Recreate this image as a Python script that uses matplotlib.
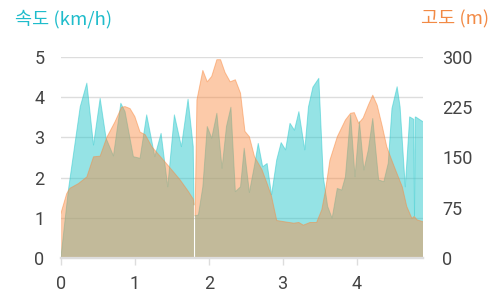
import matplotlib
matplotlib.use("Agg")
import matplotlib.pyplot as plt
import numpy as np

# distance (km) vs speed (km/h); NaN splits the two recorded segments
speed_x = [0, 0.10, 0.26, 0.35, 0.44, 0.53, 0.61, 0.71, 0.81, 0.867, 0.98, 1.07,
           1.16, 1.27, 1.355, 1.445, 1.535, 1.63, 1.72, 1.79, 1.80, 1.807,
           1.815, 1.86, 1.92, 1.98, 2.04, 2.11, 2.18, 2.24, 2.30, 2.36, 2.43,
           2.48, 2.55, 2.62, 2.67, 2.73, 2.79, 2.85, 2.92, 2.98, 3.04, 3.10,
           3.16, 3.22, 3.30, 3.35, 3.41, 3.49, 3.55, 3.61, 3.67, 3.74, 3.80,
           3.85, 3.92, 3.98, 4.04, 4.10, 4.16, 4.22, 4.30, 4.37, 4.43, 4.48,
           4.55, 4.59, 4.66, 4.72, 4.775, 4.785, 4.795, 4.80, 4.90]
speed = [0.03, 1.69, 3.76, 4.35, 2.81, 3.97, 2.98, 2.54, 3.85, 3.64, 2.52, 2.48,
         3.56, 2.52, 3.10, 1.77, 3.56, 2.77, 3.95, 2.77, 1.32, np.nan,
         1.05, 1.07, 1.77, 3.27, 2.98, 3.60, 2.23, 3.27, 3.75, 1.65, 1.77,
         2.73, 1.63, 2.31, 2.85, 2.27, 2.35, 1.57, 2.44, 2.87, 2.69, 3.35,
         3.18, 3.64, 2.69, 3.76, 4.25, 4.47, 2.02, 1.28, 0.99, 1.73, 1.69,
         2.02, 3.56, 2.02, 3.39, 2.19, 2.69, 3.47, 1.94, 1.90, 2.36, 3.72,
         4.26, 3.76, 1.77, 3.51, 3.45, 1.05, 3.50, 3.51, 3.39]

# distance (km) vs elevation (m)
elev_x = [0, 0.077, 0.12, 0.235, 0.35, 0.44, 0.53, 0.62, 0.73, 0.82, 0.867,
          0.935, 1.0, 1.07, 1.14, 1.23, 1.45, 1.61, 1.72, 1.79, 1.80, 1.807,
          1.815, 1.84, 1.92, 1.98, 2.04, 2.11, 2.16, 2.22, 2.29, 2.36, 2.43,
          2.49, 2.55, 2.62, 2.72, 2.79, 2.85, 2.92, 3.03, 3.15, 3.22, 3.28,
          3.37, 3.46, 3.53, 3.58, 3.64, 3.74, 3.85, 3.92, 3.97, 4.03, 4.09,
          4.16, 4.22, 4.28, 4.35, 4.41, 4.46, 4.53, 4.62, 4.68, 4.75, 4.78,
          4.82, 4.90]
elev = [67, 96, 104, 111, 121, 151, 152, 180, 203, 225, 226,
        223, 211, 188, 184, 166, 138, 117, 100, 88, 80, np.nan,
        63, 236, 280, 263, 271, 296, 296, 277, 263, 266, 246,
        189, 181, 151, 132, 111, 92, 56, 54, 52, 53, 49,
        53, 53, 72, 101, 146, 181, 206, 216, 217, 201, 209,
        228, 243, 228, 196, 166, 151, 131, 106, 77, 59, 62,
        57, 54]

speed_ticks = [0, 1, 2, 3, 4, 5]
elev_ticks = [0, 75, 150, 225, 300]
dist_ticks = [0, 1, 2, 3, 4]

CYAN = "#2dc9cd"
ORANGE = "#f98a40"
LABEL = "#444444"
KR = ["Noto Sans CJK KR", "DejaVu Sans"]

plt.rcParams["font.family"] = ["Roboto", "DejaVu Sans"]

fig = plt.figure(figsize=(5, 3), dpi=100)
ax = fig.add_axes([61 / 500, 42 / 300, 362 / 500, 201 / 300])
ax2 = ax.twinx()

ax.fill_between(speed_x, speed, 0, color=CYAN, alpha=0.5, lw=0)
ax.plot(speed_x, speed, color=CYAN, lw=0.7, alpha=0.5)
ax2.fill_between(elev_x, elev, 0, color=ORANGE, alpha=0.45, lw=0)
ax2.plot(elev_x, elev, color=ORANGE, lw=0.7, alpha=0.5)

ax.set_xlim(0, 4.9)
ax.set_ylim(0, 5)
ax2.set_ylim(0, 300)
ax.set_xticks(dist_ticks)
ax.set_yticks(speed_ticks)
ax2.set_yticks(elev_ticks)

ax.set_axisbelow(True)
ax.grid(axis="y", color="#dddddd", lw=1)
ax.grid(axis="x", visible=False)

for a in (ax, ax2):
    for side in ("top", "left", "right"):
        a.spines[side].set_visible(False)
    a.spines["bottom"].set_color("#dddddd")
    a.spines["bottom"].set_linewidth(1.6)

ax.tick_params(axis="y", length=0, pad=12, labelsize=13, labelcolor=LABEL)
ax2.tick_params(axis="y", length=0, pad=14, labelsize=13, labelcolor=LABEL)
ax.tick_params(axis="x", length=5, width=1, color="#dddddd", pad=7,
               labelsize=13, labelcolor=LABEL)

fig.text(15 / 500, 1 - 19 / 300, "속도 (km/h)", color="#1fbccb", fontsize=13.4,
         family=KR, ha="left", va="center")
fig.text(489 / 500, 1 - 19 / 300, "고도 (m)", color="#f28a45", fontsize=13.4,
         family=KR, ha="right", va="center")

fig.savefig("out.png", dpi=100)
